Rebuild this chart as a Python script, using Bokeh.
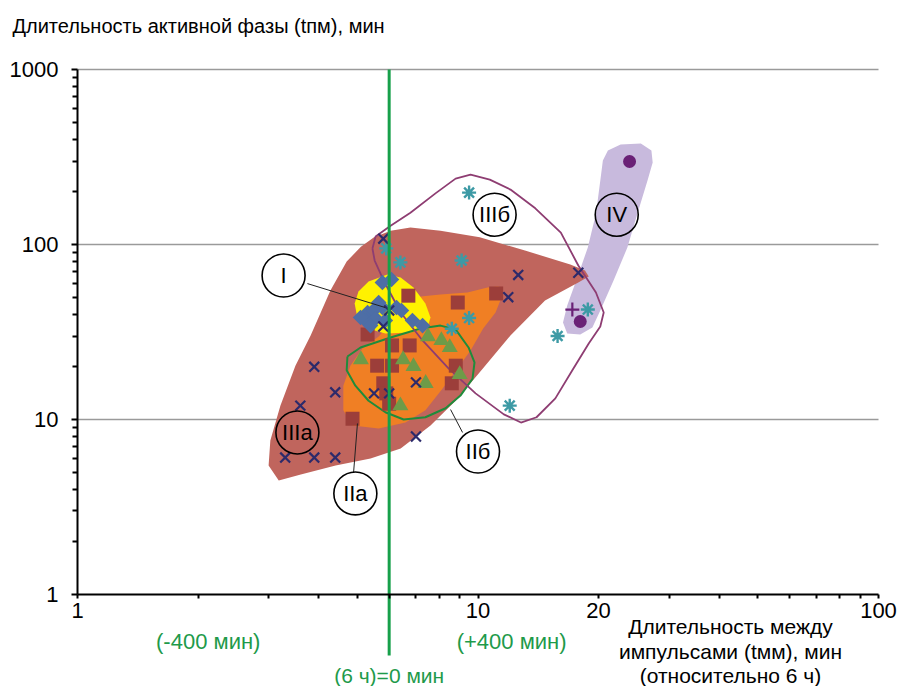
from bokeh.plotting import figure
from bokeh.models import FixedTicker, PrintfTickFormatter, Label
from bokeh.core.properties import value
from bokeh.embed import file_html
from bokeh.resources import INLINE

FONT = "Liberation Sans"

# ---- data ----
# IIIa: navy crosses
iiia_x = [5.8, 12.6, 11.9, 17.8, 6.0, 5.8, 3.9, 4.4, 3.6, 3.3, 3.9, 4.4, 7.0, 7.0, 5.5, 6.0]
iiia_y = [108, 67, 50, 69, 42, 34, 20, 14.3, 12, 6.06, 6.06, 6.06, 8.0, 16.3, 14.1, 14.1]
# IIIb: teal asterisks
iiib_x = [9.5, 6.4, 9.1, 5.9, 9.5, 8.6, 15.8, 12.0, 18.8]
iiib_y = [198, 79, 81, 95, 38, 33, 30, 12.0, 42.5]
# IIa: brown squares
iia_x = [6.7, 8.9, 11.1, 5.3, 6.1, 6.75, 5.6, 6.1, 8.8, 8.6, 5.8, 5.9, 6.0, 4.86]
iia_y = [51, 46.6, 52.5, 30.6, 26.5, 26.5, 20.3, 20.3, 20.3, 16.1, 16.1, 14.1, 12.3, 10.1]
# IIb: green triangles
iib_x = [5.1, 6.5, 6.9, 7.5, 8.1, 8.5, 7.4, 6.4, 9.0]
iib_y = [22, 22, 20.1, 29.8, 28.3, 25.8, 16.1, 12.0, 18.1]
# I: blue diamonds
i_x = [5.77, 6.08, 5.65, 5.77, 5.30, 5.48, 5.24, 5.55, 5.39, 5.87, 6.26, 6.44, 6.86, 7.27, 5.09]
i_y = [60.7, 63.1, 46.6, 43.6, 40.9, 42.0, 36.8, 37.8, 34.4, 36.8, 43.6, 42.0, 36.8, 34.4, 38.3]
# IV: purple circles and plus
iv_x = [23.9, 18.0]
iv_y = [298, 36.3]
ivp_x = [17.2]
ivp_y = [42.5]

# region outlines (data units)
reg_iiia_x = [3.18, 3.00, 3.03, 3.21, 3.50, 3.82, 4.28, 4.70, 5.10, 5.50, 6.05, 6.78, 8.06, 10.1, 13.1,
              17.0, 18.5, 18.9, 17.8, 14.7, 12.05, 10.1, 8.79, 7.61, 6.41, 5.39, 4.41, 3.61]
reg_iiia_y = [4.48, 5.46, 7.59, 12.0, 20.3, 30.2, 54.6, 80.0, 97.0, 110, 120, 125, 120, 110, 92.4,
              76.9, 71.0, 65.6, 60.7, 47.9, 30.2, 18.6, 12.8, 9.24, 6.83, 5.99, 5.46, 4.85]
reg_iia_x = [6.41, 7.19, 8.06, 9.41, 10.56, 11.25, 11.5, 11.06, 10.3, 9.58, 8.89, 8.15, 7.39,
             6.59, 5.65, 4.86, 4.61, 4.61, 4.80, 5.15, 5.65, 6.12]
reg_iia_y = [47.9, 50.4, 51.8, 53.2, 56.8, 57.5, 51.1, 40.9, 33.1, 24.8, 19.6, 15.0, 11.3,
             9.61, 8.88, 9.24, 11.3, 15.6, 20.3, 25.5, 29.8, 36.8]
reg_i_x = [5.94, 6.41, 6.90, 7.39, 7.61, 7.48, 6.78, 5.87, 5.30, 5.00, 4.92, 5.03, 5.33]
reg_i_y = [67.4, 64.8, 56.8, 46.0, 38.3, 33.5, 31.4, 31.0, 33.1, 37.8, 46.0, 53.9, 61.5]
reg_iib_x = [4.72, 5.09, 6.05, 7.19, 8.06, 8.79, 9.47, 9.80, 9.69, 9.04, 8.30, 7.39, 6.52,
             5.87, 5.33, 4.94, 4.70, 4.72]
reg_iib_y = [22.9, 25.8, 29.4, 33.1, 34.4, 32.7, 25.8, 21.2, 17.1, 13.7, 11.6, 10.3, 10.0,
             11.0, 12.8, 15.6, 19.1, 22.9]
reg_iiib_x = [5.45, 5.55, 6.05, 6.78, 7.83, 8.79, 9.58, 10.7, 12.05, 13.9, 16.1, 17.8, 19.7,
              20.6, 20.2, 18.9, 17.2, 15.6, 14.0, 12.8, 11.6, 9.86, 8.44, 7.27, 6.41, 5.81, 5.52, 5.45]
reg_iiib_y = [94.9, 111, 128, 152, 196, 238, 251, 235, 206, 161, 117, 75.9, 53.2,
              40.9, 34.0, 27.2, 19.1, 13.2, 10.3, 9.61, 10.7, 14.1, 19.6, 28.3, 40.9, 62.3, 81, 94.9]
reg_iv_x = [20.5, 21.1, 22.7, 25.5, 27.1, 27.3, 26.5, 25.0, 23.6, 21.8, 20.2, 19.3, 18.0,
            16.7, 16.3, 16.7, 17.7, 18.8, 19.7, 20.2]
reg_iv_y = [302, 344, 373, 378, 344, 294, 232, 150, 96.1, 62.3, 42.0, 33.5, 30.6,
            31.0, 35.8, 44.8, 64.8, 96.1, 150, 232]

# class labels
lab_text = ["I", "IIIб", "IV", "IIIa", "IIa", "IIб"]
lab_x = [3.27, 11.0, 22.2, 3.54, 4.94, 10.0]
lab_y = [66.5, 148, 148, 8.43, 3.78, 6.56]
# leader lines
lead_x0 = [3.75, 4.89, 9.15]
lead_y0 = [59.8, 4.98, 8.43]
lead_x1 = [5.87, 5.00, 8.54]
lead_y1 = [43.6, 9.49, 11.4]

x_ticks = [1, 10, 20, 100]
x_minor = [2, 3, 4, 5, 6, 7, 8, 9, 30, 40, 50, 60, 70, 80, 90]
y_ticks = [1, 10, 100, 1000]
y_minor = [2, 3, 4, 5, 6, 7, 8, 9, 20, 30, 40, 50, 60, 70, 80, 90,
           200, 300, 400, 500, 600, 700, 800, 900]
grid_y = [10, 100, 1000]
x_lo, x_hi = 1, 100
y_lo, y_hi = 1, 1000
zero_x = 6

# ---- figure: frame spans whole canvas, axes fixed at x=1 / y=1 ----
p = figure(width=897, height=686, x_axis_type="log", y_axis_type="log",
           x_range=(0.6422, 111.54), y_range=(0.298, 2479.6), output_backend="svg",
           toolbar_location=None, min_border=0)
p.outline_line_color = None
p.xgrid.visible = False
p.ygrid.visible = False

for ax, t, m, loc, b in [(p.xaxis[0], x_ticks, x_minor, y_lo, (x_lo, x_hi)),
                         (p.yaxis[0], y_ticks, y_minor, x_lo, (y_lo, y_hi))]:
    ax.fixed_location = loc
    ax.bounds = b
    ax.ticker = FixedTicker(ticks=t, minor_ticks=m)
    ax.formatter = PrintfTickFormatter(format="%d")
    ax.axis_line_width = 2
    ax.axis_line_color = "black"
    ax.major_tick_line_width = 2
    ax.minor_tick_line_width = 2
    ax.major_tick_in = 0
    ax.minor_tick_in = 0
    ax.major_label_text_font = FONT
    ax.major_label_text_font_size = "22px"
    ax.major_label_text_color = "black"
p.xaxis.major_tick_out = 4
p.xaxis.minor_tick_out = 4
p.xaxis.major_label_standoff = 5
p.yaxis.major_tick_out = 6
p.yaxis.minor_tick_out = 5
p.yaxis.major_label_standoff = 13

# horizontal grid lines
p.segment([x_lo] * len(grid_y), grid_y, [x_hi] * len(grid_y), grid_y,
          line_color="#9a9a9a", line_width=1.3, level="underlay")

# regions
p.patch(reg_iv_x, reg_iv_y, fill_color="#c8badd", line_color=None)
p.patch(reg_iiia_x, reg_iiia_y, fill_color="#c0655d", line_color=None)
p.patch(reg_iia_x, reg_iia_y, fill_color="#f07f24", line_color=None)
p.patch(reg_i_x, reg_i_y, fill_color="#fff200", line_color=None)
p.line(reg_iib_x, reg_iib_y, line_color="#1f8c3b", line_width=2)
p.line(reg_iiib_x, reg_iiib_y, line_color="#8e3d72", line_width=1.8)

# points
p.scatter(iiib_x, iiib_y, marker="asterisk", size=14, line_color="#3d9aa5", line_width=2.4)
p.scatter(iia_x, iia_y, marker="square", size=14, fill_color="#9c3e3a", line_color=None)
p.scatter(iib_x, iib_y, marker="triangle", size=16, fill_color="#6e9b48", line_color=None)
p.scatter(i_x, i_y, marker="square", angle=0.785398, size=11, fill_color="#4e6ea6", line_color=None)
p.scatter(iiia_x, iiia_y, marker="x", size=14, line_color="#2c2a6b", line_width=2.2)
p.scatter(iv_x, iv_y, marker="circle", size=13, fill_color="#6a2176", line_color=None)
p.scatter(ivp_x, ivp_y, marker="cross", size=14, line_color="#6a2176", line_width=2.2)

# leaders and labels
p.segment(lead_x0, lead_y0, lead_x1, lead_y1, line_color="#222222", line_width=1)
p.scatter(lab_x, lab_y, marker="circle", size=43, fill_color=None, line_color="black", line_width=1.6)
p.text(lab_x, lab_y, text=lab_text, text_align="center", text_baseline="middle",
       text_font=value(FONT), text_font_size="22px", text_color="black")

# zero line (6 h)
p.segment([zero_x], [0.448], [zero_x], [y_hi], line_color="#17a04a", line_width=3)

def lab(x, y, t, color="black", align="center", size="21px"):
    p.add_layout(Label(x=x, y=y, text=t, text_align=align, text_baseline="middle",
                       text_font=FONT, text_font_size=size, text_color=color))

lab(0.688, 1784, "Длительность активной фазы (tпм), мин", align="left", size="20px")
lab(2.12, 0.539, "(-400 мин)", color="#1e9a4a", size="22px")
lab(12.13, 0.539, "(+400 мин)", color="#1e9a4a", size="22px")
lab(6.0, 0.345, "(6 ч)=0 мин", color="#1e9a4a", size="21px")
lab(42.7, 0.66, "Длительность между")
lab(42.7, 0.475, "импульсами (tмм), мин")
lab(42.7, 0.345, "(относительно 6 ч)")

open("out.html", "w").write(file_html(p, INLINE))
